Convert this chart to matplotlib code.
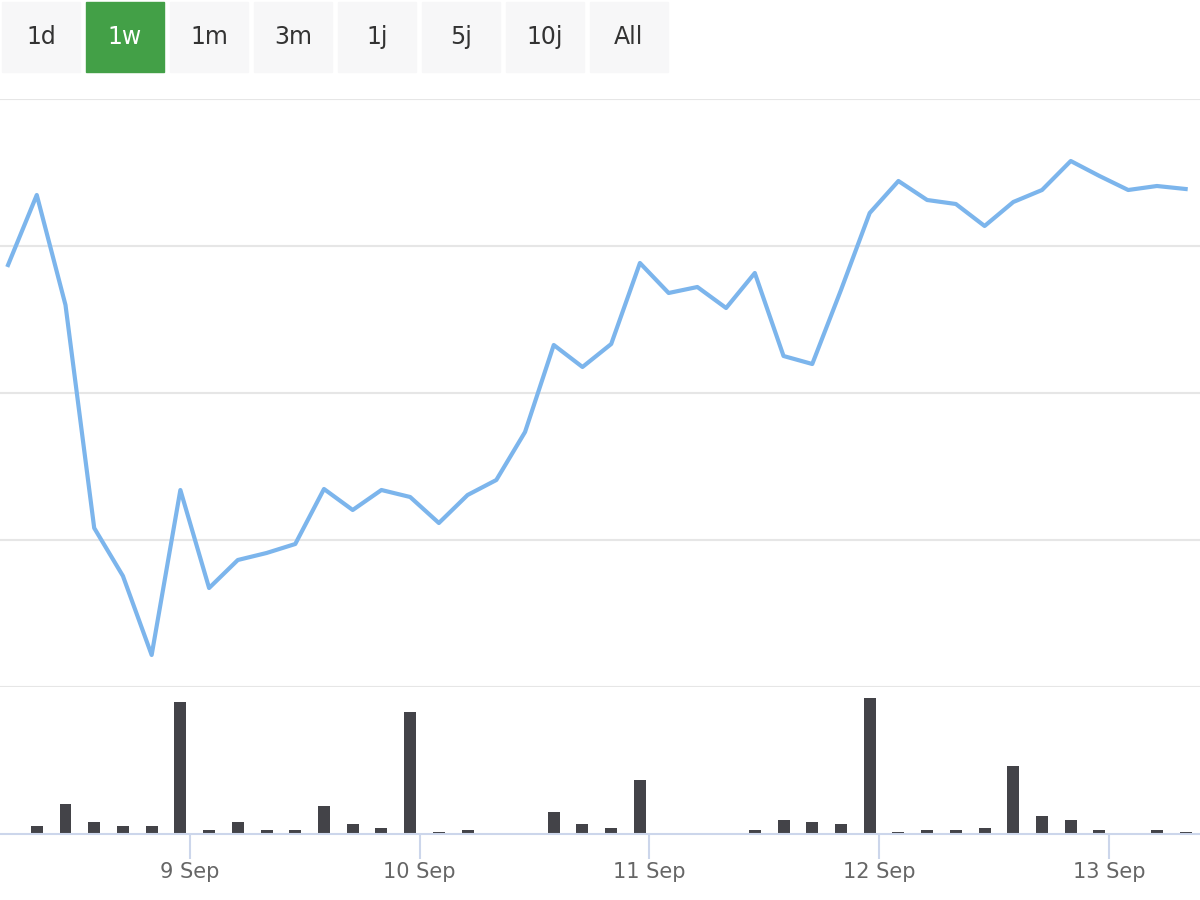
import matplotlib.pyplot as plt
from matplotlib.patches import Rectangle

# hours since 8 Sep 00:00, one point every 3 hours
hours = [5 + 3 * i for i in range(42)]
price = [422, 492, 382, 159, 111, 32, 197, 99, 127, 134, 143, 198, 177, 197,
         190, 164, 192, 207, 255, 342, 320, 343, 424, 394, 400, 379, 414, 331,
         323, 397, 474, 506, 487, 483, 461, 485, 497, 526, 511, 497, 501, 498]
volume = [0, 8, 30, 12, 8, 8, 132, 4, 12, 4, 4, 28, 10, 6, 122, 2, 4, 1, 1, 22,
          10, 6, 54, 0, 1, 1, 4, 14, 12, 10, 136, 2, 4, 4, 6, 68, 18, 14, 4, 1, 4, 2]
tick_hours = [24, 48, 72, 96, 120]
tick_labels = ['9 Sep', '10 Sep', '11 Sep', '12 Sep', '13 Sep']
buttons = ['1d', '1w', '1m', '3m', '1j', '5j', '10j', 'All']

fig = plt.figure(figsize=(12, 9), dpi=100)
xlim = (4.16, 129.5)

ax = fig.add_axes([0, 213 / 900, 1, 588 / 900])
ax.plot(hours, price, color='#7cb5ec', lw=3, solid_joinstyle='round')
ax.set_xlim(xlim)
ax.set_ylim(0, 588)
ax.set_yticks([0, 147, 294, 441, 588])
ax.grid(axis='y', color='#e6e6e6', lw=1.5)
ax.set_xticks([])
ax.tick_params(left=False, labelleft=False)
for s in ax.spines.values():
    s.set_visible(False)

vax = fig.add_axes([0, 66 / 900, 1, 147 / 900])
vax.bar(hours, volume, width=1.25, color='#434348')
vax.set_xlim(xlim)
vax.set_ylim(0, 147)
vax.set_yticks([])
for s in ['top', 'left', 'right']:
    vax.spines[s].set_visible(False)
vax.spines['bottom'].set_color('#ccd6eb')
vax.spines['bottom'].set_linewidth(1.5)
vax.set_xticks(tick_hours)
vax.set_xticklabels(tick_labels, fontsize=15, color='#666666')
vax.tick_params(axis='x', length=18, width=1.5, color='#ccd6eb', pad=2)

# range selector buttons
for i, b in enumerate(buttons):
    x0 = 2 + 84 * i
    active = b == '1w'
    fig.patches.append(Rectangle((x0 / 1200, 1 - 72 / 900), 78 / 1200, 70 / 900,
                                 transform=fig.transFigure,
                                 color='#43a047' if active else '#f7f7f8'))
    fig.text((x0 + 39) / 1200, 1 - 37 / 900, b, ha='center', va='center',
             fontsize=17, color='white' if active else '#333333')

fig.savefig('out.png', dpi=100)
